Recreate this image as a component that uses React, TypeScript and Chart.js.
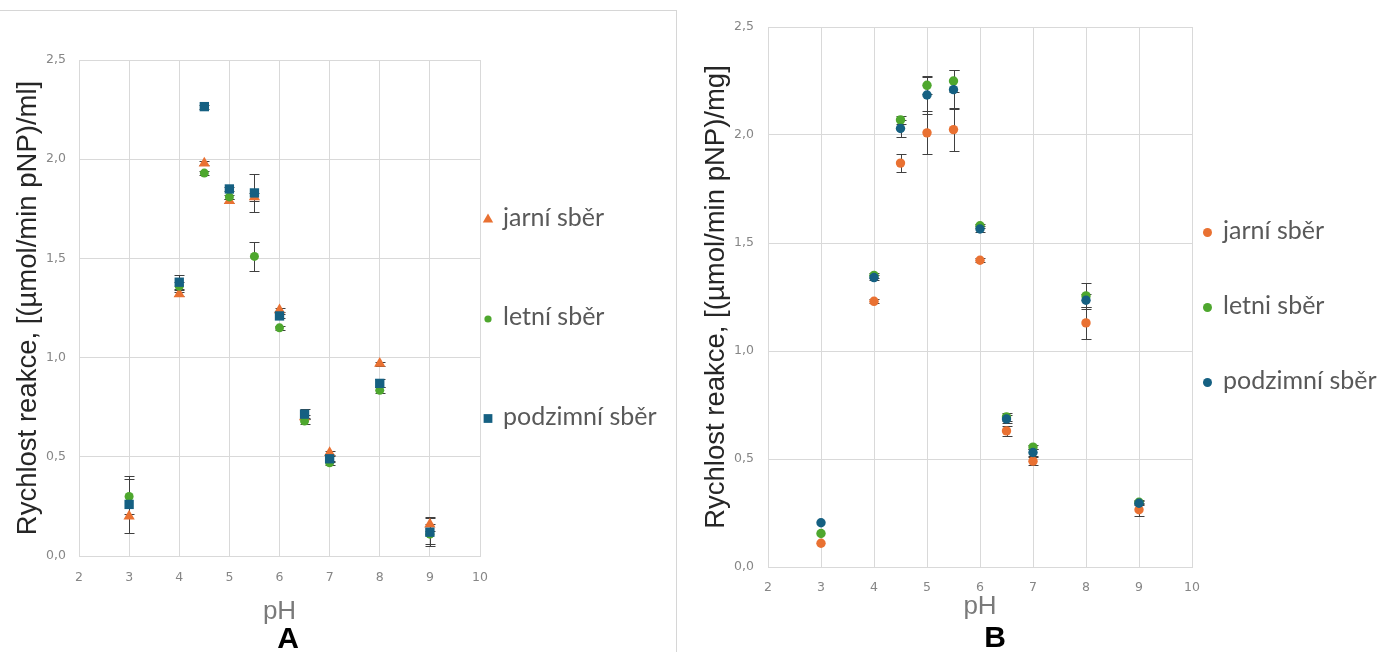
import React, { useEffect, useRef } from 'react';
import { Chart, registerables } from 'chart.js';
import { drawPoint } from 'chart.js/helpers';

Chart.register(...registerables);

// ---------------- data ----------------
const PH = [3, 4, 4.5, 5, 5.5, 6, 6.5, 7, 8, 9];
const X_TICKS = [2, 3, 4, 5, 6, 7, 8, 9, 10];
const Y_TICKS = [0, 0.5, 1.0, 1.5, 2.0, 2.5];

const SERIES_A = ['jarní sběr', 'letní sběr', 'podzimní sběr'];
const SERIES_B = ['jarní sběr', 'letni sběr', 'podzimní sběr'];
const COLORS = ['#E97132', '#4EA72E', '#156082'];

// Panel A – Rychlost reakce [(µmol/min pNP)/ml]
const JARNI_A = [0.2, 1.32, 1.98, 1.79, 1.81, 1.24, 0.7, 0.52, 0.97, 0.16];
const LETNI_A = [0.3, 1.36, 1.93, 1.81, 1.51, 1.15, 0.68, 0.47, 0.835, 0.11];
const PODZIM_A = [0.26, 1.38, 2.265, 1.85, 1.83, 1.21, 0.715, 0.49, 0.87, 0.12];
const JARNI_A_ERR = [0, 0.01, 0.01, 0.01, 0.02, 0.01, 0.01, 0.01, 0.01, 0.035];
const LETNI_A_ERR = [0.09, 0.02, 0.01, 0.01, 0.075, 0.01, 0.015, 0.01, 0.015, 0.05];
const PODZIM_A_ERR = [0.145, 0.035, 0.01, 0.01, 0.095, 0.01, 0.025, 0.015, 0.02, 0.07];

// Panel B – Rychlost reakce [(µmol/min pNP)/mg]
const JARNI_B = [0.11, 1.23, 1.87, 2.01, 2.025, 1.42, 0.63, 0.49, 1.13, 0.265];
const LETNI_B = [0.155, 1.35, 2.07, 2.23, 2.25, 1.58, 0.695, 0.555, 1.255, 0.3];
const PODZIM_B = [0.205, 1.34, 2.03, 2.185, 2.21, 1.565, 0.685, 0.53, 1.235, 0.295];
const JARNI_B_ERR = [0, 0.01, 0.04, 0.1, 0.1, 0.01, 0.025, 0.02, 0.075, 0.03];
const LETNI_B_ERR = [0, 0.01, 0.02, 0.04, 0.05, 0.01, 0.02, 0.01, 0.06, 0.01];
const PODZIM_B_ERR = [0, 0.01, 0.04, 0.09, 0.09, 0.015, 0.02, 0.015, 0.03, 0.01];

// ---------------- plugins ----------------
const errorBarPlugin = {
  id: 'errorBars',
  beforeDatasetsDraw(chart: any) {
    const { ctx } = chart;
    const xs = chart.scales.x;
    const ys = chart.scales.y;
    ctx.save();
    ctx.strokeStyle = '#404040';
    ctx.lineWidth = 1;
    chart.data.datasets.forEach((ds: any) => {
      const errs: number[] = ds.errors || [];
      ds.data.forEach((pt: any, i: number) => {
        const e = errs[i];
        if (!e) return;
        const px = Math.round(xs.getPixelForValue(pt.x)) + 0.5;
        const top = Math.round(ys.getPixelForValue(pt.y + e)) + 0.5;
        const bot = Math.round(ys.getPixelForValue(pt.y - e)) + 0.5;
        ctx.beginPath();
        ctx.moveTo(px, top);
        ctx.lineTo(px, bot);
        ctx.moveTo(px - 5, top);
        ctx.lineTo(px + 5, top);
        ctx.moveTo(px - 5, bot);
        ctx.lineTo(px + 5, bot);
        ctx.stroke();
      });
    });
    ctx.restore();
  },
};

const sideLegendPlugin = {
  id: 'sideLegend',
  afterDraw(chart: any, _args: any, opts: any) {
    const { ctx, chartArea } = chart;
    const dsets = chart.data.datasets;
    const n = dsets.length;
    ctx.save();
    ctx.font = `${opts.fontSize}px ${opts.fontFamily}`;
    ctx.textBaseline = 'middle';
    ctx.textAlign = 'left';
    dsets.forEach((ds: any, i: number) => {
      const y = opts.centerY + (i - (n - 1) / 2) * opts.spacing;
      const mx = chartArea.right + opts.markerDx;
      ctx.fillStyle = ds.backgroundColor;
      ctx.strokeStyle = ds.backgroundColor;
      drawPoint(ctx, { pointStyle: ds.pointStyle, radius: opts.radii[i], rotation: 0, borderWidth: 0 } as any, mx, y);
      ctx.fillStyle = opts.color;
      ctx.fillText(ds.label, chartArea.right + opts.textDx, y + opts.textDy);
    });
    ctx.restore();
  },
};

// ---------------- panels ----------------
type Spec = {
  left: number; width: number; height: number;
  padTop: number; padRight: number; padBottom: number;
  yAxisW: number; rightAxisW: number; xAxisH: number;
  yTitlePad: number; xTickPad: number; yTickPad: number; letterPadTop: number;
  yTitle: string; letter: string;
  names: string[]; values: number[][]; errors: number[][];
  styles: string[]; radii: number[];
  legend: any;
};

const SPEC_A: Spec = {
  left: 0, width: 676, height: 660,
  padTop: 60, padRight: 100, padBottom: 5,
  yAxisW: 79, rightAxisW: 96, xAxisH: 69,
  yTitlePad: 12, xTickPad: 14, yTickPad: 13, letterPadTop: 0,
  yTitle: 'Rychlost reakce, [(µmol/min pNP)/ml]', letter: 'A',
  names: SERIES_A,
  values: [JARNI_A, LETNI_A, PODZIM_A],
  errors: [JARNI_A_ERR, LETNI_A_ERR, PODZIM_A_ERR],
  styles: ['triangle', 'circle', 'rect'],
  radii: [6.5, 4.5, 6.6],
  legend: { centerY: 319, spacing: 99.5, markerDx: 8, textDx: 23, textDy: -2, radii: [6, 3.6, 6.2], fontSize: 25, fontFamily: 'Lato', color: '#595959' },
};

const SPEC_B: Spec = {
  left: 680, width: 704, height: 660,
  padTop: 27, padRight: 74, padBottom: 6,
  yAxisW: 88, rightAxisW: 118, xAxisH: 53,
  yTitlePad: 20, xTickPad: 13, yTickPad: 14, letterPadTop: 4,
  yTitle: 'Rychlost reakce, [(µmol/min pNP)/mg]', letter: 'B',
  names: SERIES_B,
  values: [JARNI_B, LETNI_B, PODZIM_B],
  errors: [JARNI_B_ERR, LETNI_B_ERR, PODZIM_B_ERR],
  styles: ['circle', 'circle', 'circle'],
  radii: [4.7, 4.7, 4.7],
  legend: { centerY: 307.5, spacing: 75, markerDx: 15.5, textDx: 31, textDy: -2, radii: [4.5, 4.5, 4.5], fontSize: 25, fontFamily: 'Lato', color: '#595959' },
};

const TICK_FONT = { family: 'DejaVu Sans', size: 12.5 };
const TICK_COLOR = '#868686';
const GRID_COLOR = '#d9d9d9';

function buildConfig(s: Spec): any {
  const datasets = s.names.map((name, i) => ({
    label: name,
    data: PH.map((x, j) => ({ x, y: s.values[i][j] })),
    errors: s.errors[i],
    pointStyle: s.styles[i],
    pointRadius: s.radii[i],
    pointHoverRadius: s.radii[i],
    pointBorderWidth: 0,
    backgroundColor: COLORS[i],
    borderColor: COLORS[i],
    showLine: false,
    order: s.names.length - i,
  }));
  return {
    type: 'scatter',
    data: { datasets },
    plugins: [errorBarPlugin, sideLegendPlugin],
    options: {
      responsive: false,
      animation: false,
      devicePixelRatio: 1,
      events: [],
      layout: { padding: { top: s.padTop, right: s.padRight, bottom: s.padBottom, left: 0 } },
      scales: {
        x: {
          type: 'linear', position: 'bottom', min: 2, max: 10,
          afterBuildTicks: (sc: any) => { sc.ticks = X_TICKS.map((v) => ({ value: v })); },
          afterFit: (sc: any) => { sc.height = s.xAxisH; },
          grid: { color: GRID_COLOR, lineWidth: 1, drawTicks: false },
          border: { color: GRID_COLOR, width: 1 },
          ticks: { padding: s.xTickPad, color: TICK_COLOR, font: TICK_FONT, maxRotation: 0, callback: (v: any) => String(v) },
          title: {
            display: true, text: 'pH', color: '#7a7a7a',
            font: { family: 'Liberation Sans', size: 26, lineHeight: 1 },
            padding: { top: 0, bottom: 0 },
          },
        },
        y: {
          type: 'linear', position: 'left', min: 0, max: 2.5,
          afterBuildTicks: (sc: any) => { sc.ticks = Y_TICKS.map((v) => ({ value: v })); },
          afterFit: (sc: any) => { sc.width = s.yAxisW; },
          grid: { color: GRID_COLOR, lineWidth: 1, drawTicks: false },
          border: { color: GRID_COLOR, width: 1 },
          ticks: {
            padding: s.yTickPad, color: TICK_COLOR, font: TICK_FONT,
            callback: (v: any) => Number(v).toFixed(1).replace('.', ','),
          },
          title: {
            display: true, text: s.yTitle, color: '#262626',
            font: { family: 'Liberation Sans', size: 27.5 },
            padding: { top: s.yTitlePad, bottom: 0 },
          },
        },
        yR: {
          type: 'linear', position: 'right', min: 0, max: 1, display: true,
          afterFit: (sc: any) => { sc.width = s.rightAxisW; },
          grid: { display: false },
          border: { display: false },
          ticks: { display: false },
          title: { display: false },
        },
      },
      plugins: {
        legend: { display: false },
        tooltip: { enabled: false },
        title: {
          display: true, text: s.letter, position: 'bottom', color: '#000000',
          font: { family: 'Liberation Sans', size: 30, weight: 'bold', lineHeight: 1 },
          padding: { top: s.letterPadTop, bottom: 0 },
        },
        sideLegend: s.legend,
      },
    },
  };
}

function Panel({ spec }: { spec: Spec }) {
  const ref = useRef<HTMLCanvasElement>(null);
  useEffect(() => {
    const chart = new Chart(ref.current as HTMLCanvasElement, buildConfig(spec));
    return () => chart.destroy();
  }, [spec]);
  return (
    <canvas
      ref={ref}
      width={spec.width}
      height={spec.height}
      style={{ position: 'absolute', left: spec.left, top: 0, width: spec.width, height: spec.height }}
    />
  );
}

export default function App() {
  return (
    <div
      style={{
        position: 'fixed', left: 0, top: 0, width: 1384, height: 652,
        overflow: 'hidden', background: '#ffffff',
      }}
    >
      <div
        style={{
          position: 'absolute', left: -2, top: 10, width: 677, height: 700,
          border: '1px solid #d6d6d6', boxSizing: 'content-box',
        }}
      />
      <Panel spec={SPEC_A} />
      <Panel spec={SPEC_B} />
    </div>
  );
}
